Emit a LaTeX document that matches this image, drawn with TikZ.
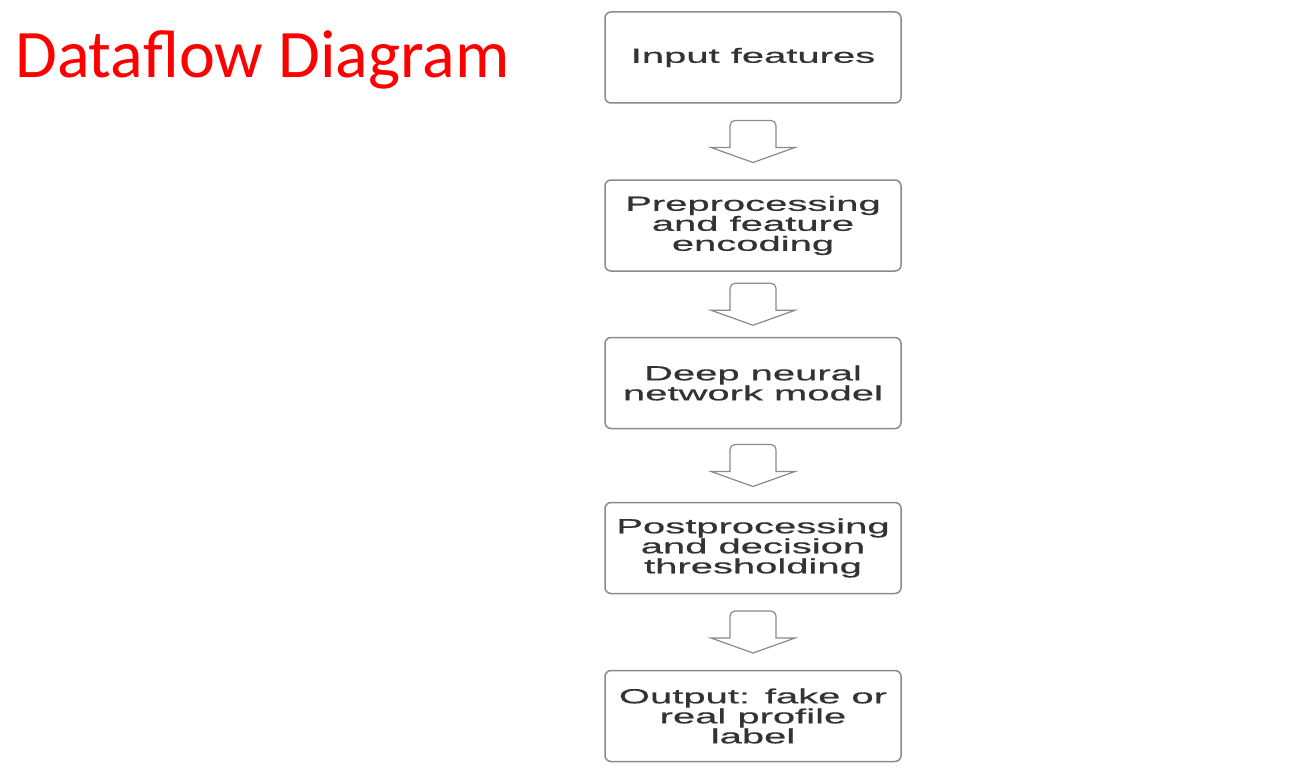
\documentclass[tikz,border=0pt]{standalone}
\usepackage{fontspec}
\setmainfont{Liberation Sans}
\newfontfamily\titlefont{Carlito}
\newfontfamily\boxfont[FakeStretch=1.95,FakeBold=0.6]{Liberation Sans}
\definecolor{boxline}{HTML}{8A8A8A}
\definecolor{boxtext}{HTML}{333333}
\definecolor{titlered}{HTML}{FF0000}
\tikzset{
  stepbox/.style={draw=boxline, line width=1.5pt, rounded corners=6pt, fill=white,
    minimum width=296pt, minimum height=91pt, inner sep=0pt, align=center,
    text=boxtext, font=\boxfont\fontsize{20.5}{20}\selectfont},
  blockarrow/.style={draw=boxline, line width=1.2pt, fill=white, line join=miter},
  pics/downarrow/.style={code={
    \draw[blockarrow] (0,-21) [rounded corners=5pt] -- (23,-21) [sharp corners] -- (23,6) -- (42,6) -- (0,21) -- (-42,6) -- (-23,6) [rounded corners=5pt] -- (-23,-21) [sharp corners] -- cycle;
  }}
}
\begin{document}
\begin{tikzpicture}[x=1pt,y=-1pt]
\useasboundingbox (0,0) rectangle (1316,781);
\node[anchor=base west, text=titlered, font=\titlefont\fontsize{68}{68}\selectfont, inner sep=0pt] (title) at (15,78) {Dataflow Diagram};
\node[stepbox] (b1) at (753,57.5) {Input features};
\node[stepbox] (b2) at (753,225.5) {Preprocessing\\and feature\\encoding};
\node[stepbox] (b3) at (753,383) {Deep neural\\network model};
\node[stepbox] (b4) at (753,548) {Postprocessing\\and decision\\thresholding};
\node[stepbox] (b5) at (753,716) {Output: fake or\\real profile\\label};
\path (b1.south) -- (b2.north) coordinate[midway] (m1);
\path (b2.south) -- (b3.north) coordinate[midway] (m2);
\path (b3.south) -- (b4.north) coordinate[midway] (m3);
\path (b4.south) -- (b5.north) coordinate[midway] (m4);
\pic at (m1) {downarrow};
\pic at (m2) {downarrow};
\pic at (m3) {downarrow};
\pic at (m4) {downarrow};
\end{tikzpicture}
\end{document}
